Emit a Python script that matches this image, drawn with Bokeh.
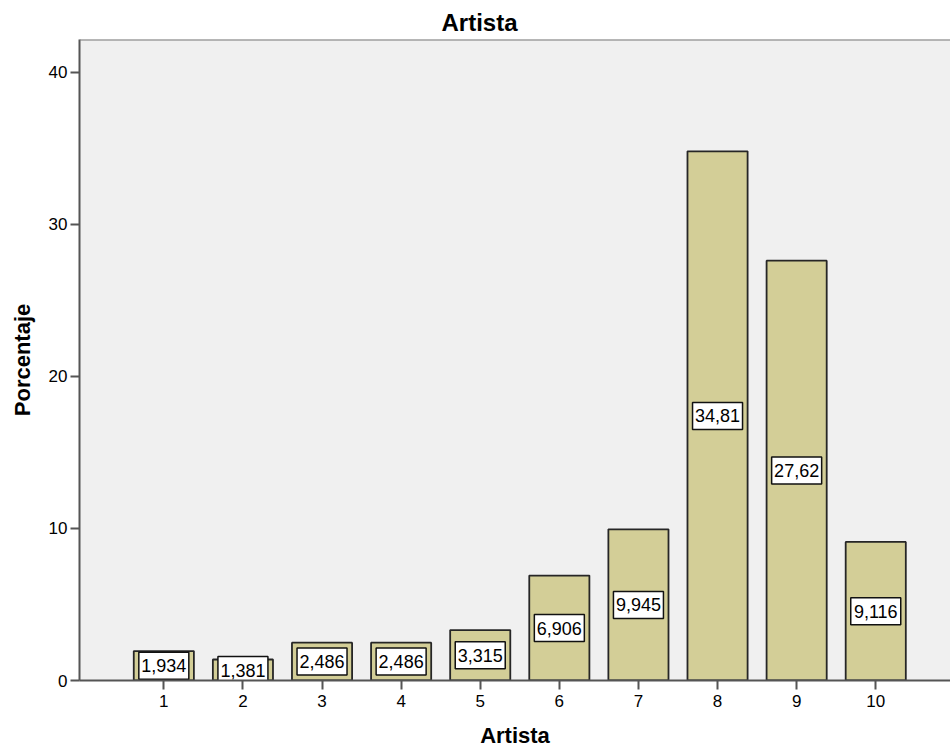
from bokeh.plotting import figure
from bokeh.models import Range1d, FixedTicker, Span, ColumnDataSource
from bokeh.embed import file_html
from bokeh.resources import INLINE
from bokeh.core.properties import value

# ---- data ----
categories = [1, 2, 3, 4, 5, 6, 7, 8, 9, 10]
percentages = [1.934, 1.381, 2.486, 2.486, 3.315, 6.906, 9.945, 34.81, 27.62, 9.116]
value_labels = ["1,934", "1,381", "2,486", "2,486", "3,315", "6,906", "9,945", "34,81", "27,62", "9,116"]
y_ticks = [0, 10, 20, 30, 40]
chart_title = "Artista"
x_title = "Artista"
y_title = "Porcentaje"

FONT = "Liberation Sans"

src = ColumnDataSource(dict(
    x=categories,
    top=percentages,
    mid=[v / 2 for v in percentages],
    lab=value_labels,
))

p = figure(width=950, height=755, output_backend="svg", toolbar_location=None,
           x_range=Range1d(-0.066, 10.945), y_range=Range1d(0, 42.17),
           min_border_left=79, min_border_right=0, min_border_top=39, min_border_bottom=75,
           title=chart_title)
p.background_fill_color = "#f0f0f0"
p.border_fill_color = "white"
p.outline_line_color = None
p.xgrid.visible = False
p.ygrid.visible = False

p.title.align = "left"
p.title.offset = 362
p.title.standoff = 8
p.title.text_font = FONT
p.title.text_font_size = "24px"
p.title.text_font_style = "bold"
p.title.text_color = "black"

p.vbar(x="x", top="top", bottom=0, width=0.76, source=src,
       fill_color="#d3ce97", line_color="#262626", line_width=1.8)
p.rect(x="x", y="mid", width=50, height=27, width_units="screen", height_units="screen",
       source=src, fill_color="white", line_color="#111111", line_width=1.5)
p.text(x="x", y="mid", text="lab", source=src, text_align="center", text_baseline="middle",
       text_font=value(FONT), text_font_size="18px", text_color="black")

p.add_layout(Span(location=42.17, dimension="width", line_color="#777777", line_width=2))

p.xaxis.ticker = FixedTicker(ticks=categories)
p.yaxis.ticker = FixedTicker(ticks=y_ticks)
p.xaxis.axis_label = x_title
p.yaxis.axis_label = y_title
for ax in (p.xaxis[0], p.yaxis[0]):
    ax.axis_line_color = "#555555"
    ax.axis_line_width = 2
    ax.major_tick_line_color = "#555555"
    ax.major_tick_line_width = 2
    ax.major_tick_in = 0
    ax.major_tick_out = 9
    ax.minor_tick_line_color = None
    ax.major_label_text_font = FONT
    ax.major_label_text_font_size = "17px"
    ax.major_label_text_color = "black"
    ax.axis_label_text_font = FONT
    ax.axis_label_text_font_style = "bold"
    ax.axis_label_text_font_size = "22px"
    ax.axis_label_text_color = "black"
p.yaxis.major_label_standoff = 3
p.yaxis.axis_label_standoff = 11
p.xaxis.major_label_standoff = 5
p.xaxis.axis_label_standoff = 13

open("out.html", "w").write(file_html(p, INLINE))
